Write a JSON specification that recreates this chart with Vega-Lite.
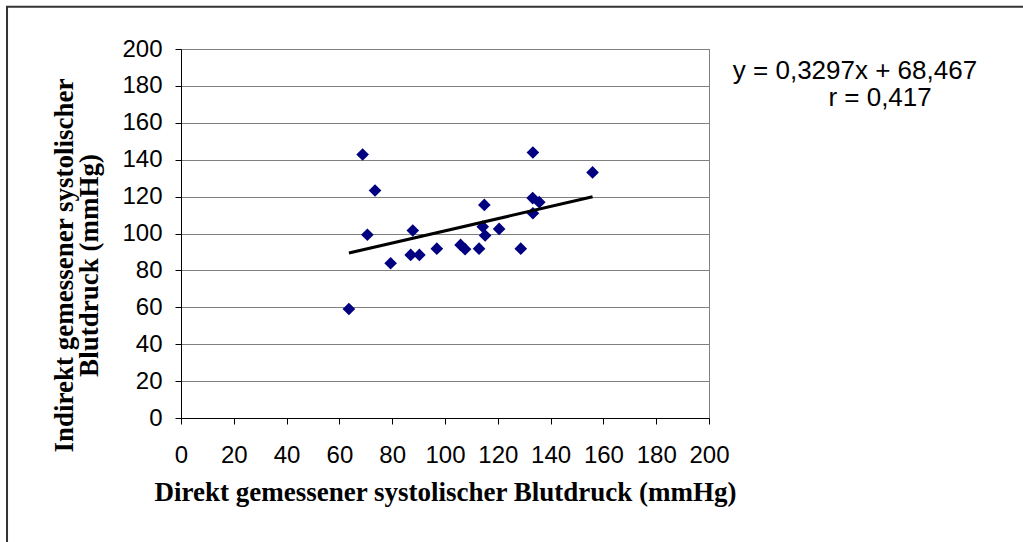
{
  "$schema": "https://vega.github.io/schema/vega-lite/v6.json",
  "autosize": {"type": "none"},
  "padding": {"left": 181, "top": 49, "right": 314, "bottom": 124},
  "width": 528,
  "height": 369,
  "background": "white",
  "config": {
    "view": {"stroke": "#808080", "strokeWidth": 1},
    "axis": {
      "labelFont": "Liberation Sans",
      "labelFontSize": 24,
      "labelColor": "black",
      "labelOverlap": false,
      "labelFlush": false,
      "titleFont": "Liberation Serif",
      "titleFontSize": 27,
      "titleFontWeight": "bold",
      "titleColor": "black",
      "domainColor": "black",
      "domainWidth": 1,
      "tickColor": "black",
      "tickSize": 6,
      "gridColor": "#808080",
      "gridWidth": 1
    },
    "axisX": {
      "values": [0, 20, 40, 60, 80, 100, 120, 140, 160, 180, 200],
      "grid": false,
      "labelPadding": 19,
      "titleY": 82,
      "titleBaseline": "alphabetic"
    },
    "axisY": {
      "values": [0, 20, 40, 60, 80, 100, 120, 140, 160, 180, 200],
      "grid": true,
      "labelPadding": 13,
      "titleX": -117,
      "titleY": 216,
      "titleAngle": -90,
      "titleAlign": "center",
      "titleBaseline": "middle",
      "titleLineHeight": 25
    }
  },
  "datasets": {
    "points": [
      {"direkt": 68.8, "indirekt": 142.8},
      {"direkt": 73.5, "indirekt": 123.3},
      {"direkt": 70.6, "indirekt": 99.3},
      {"direkt": 63.6, "indirekt": 59.1},
      {"direkt": 79.4, "indirekt": 83.9},
      {"direkt": 87.8, "indirekt": 101.6},
      {"direkt": 87.0, "indirekt": 88.4},
      {"direkt": 90.3, "indirekt": 88.4},
      {"direkt": 96.9, "indirekt": 91.8},
      {"direkt": 105.9, "indirekt": 93.8},
      {"direkt": 107.6, "indirekt": 91.5},
      {"direkt": 112.9, "indirekt": 91.8},
      {"direkt": 114.9, "indirekt": 115.5},
      {"direkt": 114.3, "indirekt": 103.7},
      {"direkt": 115.2, "indirekt": 98.9},
      {"direkt": 120.5, "indirekt": 102.5},
      {"direkt": 128.7, "indirekt": 91.8},
      {"direkt": 133.3, "indirekt": 143.9},
      {"direkt": 133.2, "indirekt": 119.2},
      {"direkt": 135.7, "indirekt": 117.0},
      {"direkt": 133.3, "indirekt": 111.0},
      {"direkt": 155.9, "indirekt": 133.1}
    ],
    "trend": [
      {"direkt": 63.6, "indirekt": 89.4},
      {"direkt": 155.9, "indirekt": 119.9}
    ],
    "single": [{}]
  },
  "layer": [
    {
      "data": {"name": "points"},
      "mark": {"type": "point", "shape": "diamond", "filled": true, "color": "#000080", "size": 160, "opacity": 1},
      "encoding": {
        "x": {
          "field": "direkt", "type": "quantitative",
          "scale": {"domain": [0, 200], "nice": false, "zero": false},
          "axis": {
            "values": [0, 20, 40, 60, 80, 100, 120, 140, 160, 180, 200],
            "title": "Direkt gemessener systolischer Blutdruck (mmHg)"
          }
        },
        "y": {
          "field": "indirekt", "type": "quantitative",
          "scale": {"domain": [0, 200], "nice": false, "zero": false},
          "axis": {
            "values": [0, 20, 40, 60, 80, 100, 120, 140, 160, 180, 200],
            "title": ["Indirekt gemessener systolischer", "Blutdruck (mmHg)"]
          }
        }
      }
    },
    {
      "data": {"name": "trend"},
      "mark": {"type": "line", "color": "black", "strokeWidth": 3},
      "encoding": {
        "x": {"field": "direkt", "type": "quantitative", "axis": {"values": [0, 20, 40, 60, 80, 100, 120, 140, 160, 180, 200]}},
        "y": {"field": "indirekt", "type": "quantitative", "axis": {"values": [0, 20, 40, 60, 80, 100, 120, 140, 160, 180, 200]}}
      }
    },
    {
      "data": {"name": "single"},
      "mark": {"type": "rect", "fill": null, "stroke": "#333333", "strokeWidth": 2, "clip": false},
      "encoding": {
        "x": {"datum": -65.9, "type": "quantitative", "axis": {"values": [0, 20, 40, 60, 80, 100, 120, 140, 160, 180, 200]}},
        "x2": {"datum": 400},
        "y": {"datum": 222.9, "type": "quantitative", "axis": {"values": [0, 20, 40, 60, 80, 100, 120, 140, 160, 180, 200]}},
        "y2": {"datum": -100}
      }
    },
    {
      "data": {"name": "single"},
      "mark": {"type": "text", "text": "y = 0,3297x + 68,467", "font": "Liberation Sans", "fontSize": 26, "align": "center", "baseline": "alphabetic", "color": "black", "clip": false},
      "encoding": {
        "x": {"datum": 255.3, "type": "quantitative", "axis": {"values": [0, 20, 40, 60, 80, 100, 120, 140, 160, 180, 200]}},
        "y": {"datum": 183.9, "type": "quantitative", "axis": {"values": [0, 20, 40, 60, 80, 100, 120, 140, 160, 180, 200]}}
      }
    },
    {
      "data": {"name": "single"},
      "mark": {"type": "text", "text": "r = 0,417", "font": "Liberation Sans", "fontSize": 26, "align": "center", "baseline": "alphabetic", "color": "black", "clip": false},
      "encoding": {
        "x": {"datum": 264.8, "type": "quantitative", "axis": {"values": [0, 20, 40, 60, 80, 100, 120, 140, 160, 180, 200]}},
        "y": {"datum": 168.9, "type": "quantitative", "axis": {"values": [0, 20, 40, 60, 80, 100, 120, 140, 160, 180, 200]}}
      }
    }
  ]
}
